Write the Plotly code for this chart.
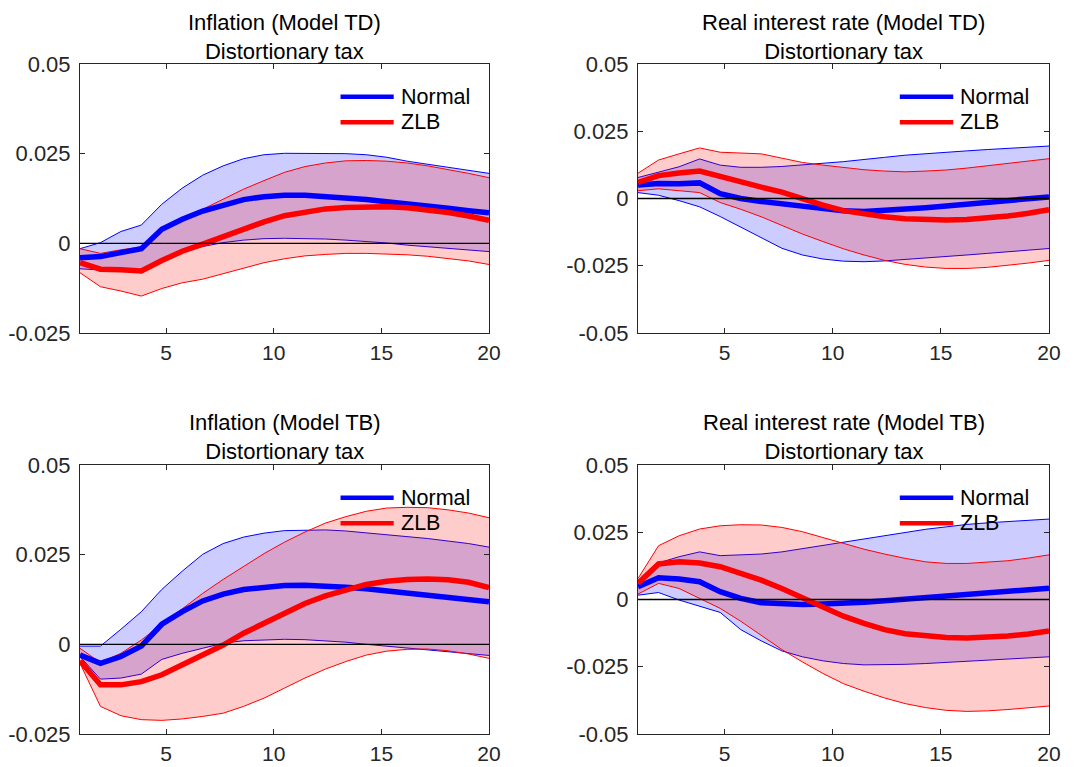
import plotly.graph_objects as go

# ---------------- data ----------------
periods = [1, 1.95, 2.9, 3.85, 4.8, 5.75, 6.7, 7.65, 8.6, 9.55, 10.5,
           11.45, 12.4, 13.35, 14.3, 15.25, 16.2, 17.15, 18.1, 19.05, 20]

x_tickvals = [5, 10, 15, 20]
x_ticktext = ["5", "10", "15", "20"]
y_tickvals_inf = [-0.025, 0, 0.025, 0.05]
y_ticktext_inf = ["-0.025", "0", "0.025", "0.05"]
y_tickvals_rate = [-0.05, -0.025, 0, 0.025, 0.05]
y_ticktext_rate = ["-0.05", "-0.025", "0", "0.025", "0.05"]

series_names = ["Normal", "ZLB"]
titles = ["Inflation (Model TD)", "Real interest rate (Model TD)",
          "Inflation (Model TB)", "Real interest rate (Model TB)"]
subtitle = "Distortionary tax"

# Panel 1: Inflation (Model TD)
inf_td_normal = [-0.0040, -0.0037, -0.0026, -0.0015, 0.0039, 0.0067, 0.0090, 0.0107, 0.0122, 0.0130, 0.0134,
                 0.0134, 0.0131, 0.0126, 0.0122, 0.0116, 0.0111, 0.0104, 0.0098, 0.0091, 0.0085]
inf_td_normal_hi = [-0.0015, 0.0002, 0.0033, 0.0051, 0.0109, 0.0154, 0.0190, 0.0216, 0.0236, 0.0247, 0.0251,
                    0.0251, 0.0251, 0.0250, 0.0247, 0.0240, 0.0229, 0.0220, 0.0211, 0.0203, 0.0195]
inf_td_normal_lo = [-0.0071, -0.0074, -0.0075, -0.0080, -0.0045, -0.0023, -0.0009, 0.0002, 0.0009, 0.0013, 0.0014,
                    0.0014, 0.0012, 0.0009, 0.0006, 0.0001, -0.0005, -0.0009, -0.0014, -0.0019, -0.0023]
inf_td_zlb = [-0.0054, -0.0072, -0.0074, -0.0077, -0.0048, -0.0022, -0.0002, 0.0019, 0.0040, 0.0060, 0.0077,
              0.0088, 0.0096, 0.0100, 0.0102, 0.0102, 0.0099, 0.0094, 0.0086, 0.0076, 0.0064]
inf_td_zlb_hi = [-0.0015, -0.0028, -0.0018, -0.0010, 0.0035, 0.0068, 0.0095, 0.0123, 0.0151, 0.0175, 0.0198,
                 0.0214, 0.0224, 0.0230, 0.0231, 0.0229, 0.0224, 0.0216, 0.0206, 0.0195, 0.0183]
inf_td_zlb_lo = [-0.0082, -0.0121, -0.0133, -0.0147, -0.0126, -0.0110, -0.0100, -0.0084, -0.0068, -0.0054, -0.0043,
                 -0.0035, -0.0031, -0.0028, -0.0028, -0.0029, -0.0032, -0.0036, -0.0042, -0.0049, -0.0059]

# Panel 2: Real interest rate (Model TD)
rate_td_normal = [0.0050, 0.0056, 0.0055, 0.0058, 0.0018, 0.0000, -0.0011, -0.0021, -0.0030, -0.0040, -0.0046,
                  -0.0048, -0.0045, -0.0040, -0.0034, -0.0028, -0.0021, -0.0015, -0.0008, -0.0001, 0.0006]
rate_td_normal_hi = [0.0078, 0.0099, 0.0118, 0.0147, 0.0124, 0.0116, 0.0116, 0.0119, 0.0124, 0.0131, 0.0137,
                     0.0144, 0.0153, 0.0161, 0.0167, 0.0172, 0.0177, 0.0182, 0.0186, 0.0190, 0.0195]
rate_td_normal_lo = [0.0022, 0.0012, -0.0008, -0.0031, -0.0067, -0.0107, -0.0148, -0.0185, -0.0210, -0.0225, -0.0233,
                     -0.0235, -0.0232, -0.0227, -0.0222, -0.0216, -0.0210, -0.0204, -0.0197, -0.0192, -0.0186]
rate_td_zlb = [0.0060, 0.0085, 0.0095, 0.0102, 0.0082, 0.0060, 0.0042, 0.0024, -0.0002, -0.0025, -0.0045,
               -0.0058, -0.0068, -0.0075, -0.0079, -0.0080, -0.0078, -0.0073, -0.0065, -0.0055, -0.0042]
rate_td_zlb_hi = [0.0094, 0.0143, 0.0166, 0.0188, 0.0172, 0.0168, 0.0166, 0.0150, 0.0134, 0.0124, 0.0116,
                  0.0107, 0.0102, 0.0099, 0.0102, 0.0106, 0.0113, 0.0122, 0.0131, 0.0139, 0.0148]
rate_td_zlb_lo = [0.0029, 0.0036, 0.0029, 0.0022, -0.0015, -0.0040, -0.0068, -0.0100, -0.0132, -0.0160, -0.0187,
                  -0.0210, -0.0230, -0.0245, -0.0255, -0.0260, -0.0260, -0.0256, -0.0249, -0.0240, -0.0230]

# Panel 3: Inflation (Model TB)
inf_tb_normal = [-0.0030, -0.0053, -0.0034, -0.0005, 0.0056, 0.0091, 0.0121, 0.0140, 0.0153, 0.0160, 0.0164,
                 0.0165, 0.0163, 0.0159, 0.0155, 0.0149, 0.0144, 0.0138, 0.0132, 0.0126, 0.0119]
inf_tb_normal_hi = [-0.0005, -0.0005, 0.0042, 0.0091, 0.0153, 0.0204, 0.0251, 0.0281, 0.0299, 0.0310, 0.0317,
                    0.0319, 0.0319, 0.0316, 0.0311, 0.0306, 0.0301, 0.0295, 0.0288, 0.0281, 0.0271]
inf_tb_normal_lo = [-0.0034, -0.0097, -0.0094, -0.0083, -0.0042, -0.0025, -0.0011, 0.0003, 0.0010, 0.0013, 0.0014,
                    0.0013, 0.0010, 0.0006, 0.0000, -0.0005, -0.0009, -0.0014, -0.0019, -0.0025, -0.0031]
inf_tb_zlb = [-0.0046, -0.0113, -0.0113, -0.0104, -0.0085, -0.0057, -0.0030, -0.0002, 0.0031, 0.0060, 0.0088,
              0.0114, 0.0135, 0.0153, 0.0167, 0.0176, 0.0181, 0.0182, 0.0180, 0.0173, 0.0158]
inf_tb_zlb_hi = [-0.0011, -0.0051, -0.0025, 0.0012, 0.0056, 0.0100, 0.0142, 0.0181, 0.0218, 0.0253, 0.0285,
                 0.0313, 0.0338, 0.0356, 0.0371, 0.0380, 0.0382, 0.0381, 0.0375, 0.0366, 0.0353]
inf_tb_zlb_lo = [-0.0053, -0.0173, -0.0199, -0.0210, -0.0212, -0.0208, -0.0201, -0.0192, -0.0173, -0.0150, -0.0122,
                 -0.0094, -0.0069, -0.0048, -0.0030, -0.0019, -0.0014, -0.0013, -0.0018, -0.0027, -0.0039]

# Panel 4: Real interest rate (Model TB)
rate_tb_normal = [0.0047, 0.0081, 0.0076, 0.0066, 0.0029, 0.0004, -0.0012, -0.0017, -0.0019, -0.0017, -0.0015,
                  -0.0010, -0.0005, 0.0001, 0.0007, 0.0015, 0.0021, 0.0027, 0.0033, 0.0038, 0.0042]
rate_tb_normal_hi = [0.0066, 0.0136, 0.0159, 0.0177, 0.0163, 0.0165, 0.0169, 0.0177, 0.0189, 0.0201, 0.0213,
                     0.0226, 0.0238, 0.0251, 0.0261, 0.0270, 0.0279, 0.0285, 0.0290, 0.0295, 0.0299]
rate_tb_normal_lo = [0.0016, 0.0026, -0.0002, -0.0025, -0.0048, -0.0112, -0.0154, -0.0191, -0.0213, -0.0228, -0.0238,
                     -0.0243, -0.0243, -0.0241, -0.0238, -0.0234, -0.0230, -0.0226, -0.0221, -0.0217, -0.0213]
rate_tb_zlb = [0.0060, 0.0132, 0.0140, 0.0136, 0.0122, 0.0097, 0.0072, 0.0041, 0.0007, -0.0027, -0.0062,
               -0.0089, -0.0112, -0.0127, -0.0136, -0.0141, -0.0143, -0.0141, -0.0136, -0.0128, -0.0117]
rate_tb_zlb_hi = [0.0078, 0.0200, 0.0237, 0.0262, 0.0274, 0.0278, 0.0277, 0.0268, 0.0252, 0.0231, 0.0208,
                  0.0187, 0.0169, 0.0153, 0.0140, 0.0134, 0.0134, 0.0138, 0.0144, 0.0154, 0.0166]
rate_tb_zlb_lo = [0.0020, 0.0060, 0.0041, 0.0004, -0.0033, -0.0081, -0.0133, -0.0186, -0.0232, -0.0275, -0.0313,
                  -0.0341, -0.0366, -0.0387, -0.0402, -0.0412, -0.0416, -0.0414, -0.0409, -0.0403, -0.0396]

panels = [
    (inf_td_normal, inf_td_normal_hi, inf_td_normal_lo, inf_td_zlb, inf_td_zlb_hi, inf_td_zlb_lo),
    (rate_td_normal, rate_td_normal_hi, rate_td_normal_lo, rate_td_zlb, rate_td_zlb_hi, rate_td_zlb_lo),
    (inf_tb_normal, inf_tb_normal_hi, inf_tb_normal_lo, inf_tb_zlb, inf_tb_zlb_hi, inf_tb_zlb_lo),
    (rate_tb_normal, rate_tb_normal_hi, rate_tb_normal_lo, rate_tb_zlb, rate_tb_zlb_hi, rate_tb_zlb_lo),
]

# ---------------- style / layout ----------------
W, H = 1075, 767
FONT = "Liberation Sans, Arial, Helvetica, sans-serif"
AX_COLOR = "#262626"
BLUE, RED = "#0000ff", "#ff0000"
BLUE_FILL, RED_FILL = "rgba(0,0,255,0.2)", "rgba(255,0,0,0.2)"

# pixel boxes (left, right, top, bottom)
boxes = [(80, 489, 64, 333), (638, 1049, 64, 333),
         (80, 489, 465, 734), (638, 1049, 465, 734)]
title_centers = [37, 37, 437, 437]
y_ranges = [[-0.025, 0.05], [-0.05, 0.05], [-0.025, 0.05], [-0.05, 0.05]]
y_ticks = [(y_tickvals_inf, y_ticktext_inf), (y_tickvals_rate, y_ticktext_rate),
           (y_tickvals_inf, y_ticktext_inf), (y_tickvals_rate, y_ticktext_rate)]

fig = go.Figure()
layout = dict(
    width=W, height=H, margin=dict(l=0, r=0, t=0, b=0, autoexpand=False),
    paper_bgcolor="white", plot_bgcolor="white",
    showlegend=False, font=dict(family=FONT, color=AX_COLOR),
)
annotations, shapes = [], []

for i, (nm, nhi, nlo, zm, zhi, zlo) in enumerate(panels):
    n = i + 1
    xa = "x" if n == 1 else f"x{n}"
    ya = "y" if n == 1 else f"y{n}"
    l, r, t, b = boxes[i]

    # bands: Normal then ZLB
    fig.add_trace(go.Scatter(x=periods, y=nlo, mode="lines", line=dict(color=BLUE, width=1),
                             xaxis=xa, yaxis=ya, hoverinfo="skip"))
    fig.add_trace(go.Scatter(x=periods, y=nhi, mode="lines", line=dict(color=BLUE, width=1),
                             fill="tonexty", fillcolor=BLUE_FILL, xaxis=xa, yaxis=ya, hoverinfo="skip"))
    fig.add_trace(go.Scatter(x=periods, y=zlo, mode="lines", line=dict(color=RED, width=1),
                             xaxis=xa, yaxis=ya, hoverinfo="skip"))
    fig.add_trace(go.Scatter(x=periods, y=zhi, mode="lines", line=dict(color=RED, width=1),
                             fill="tonexty", fillcolor=RED_FILL, xaxis=xa, yaxis=ya, hoverinfo="skip"))
    # means
    fig.add_trace(go.Scatter(x=periods, y=nm, mode="lines", name=series_names[0],
                             line=dict(color=BLUE, width=5.5), xaxis=xa, yaxis=ya))
    fig.add_trace(go.Scatter(x=periods, y=zm, mode="lines", name=series_names[1],
                             line=dict(color=RED, width=5.5), xaxis=xa, yaxis=ya))

    tv, tt = y_ticks[i]
    layout["xaxis" if n == 1 else f"xaxis{n}"] = dict(
        domain=[l / W, r / W], anchor=ya, range=[1, 20], automargin=False,
        tickmode="array", tickvals=x_tickvals, ticktext=x_ticktext,
        ticks="inside", ticklen=5, tickcolor=AX_COLOR, tickwidth=1,
        showline=True, linecolor=AX_COLOR, linewidth=1, mirror="ticks",
        showgrid=False, zeroline=False,
        tickfont=dict(family=FONT, size=21, color=AX_COLOR), ticklabelstandoff=1,
    )
    layout["yaxis" if n == 1 else f"yaxis{n}"] = dict(
        domain=[1 - b / H, 1 - t / H], anchor=xa, range=y_ranges[i], automargin=False,
        tickmode="array", tickvals=tv, ticktext=tt,
        ticks="inside", ticklen=5, tickcolor=AX_COLOR, tickwidth=1,
        showline=True, linecolor=AX_COLOR, linewidth=1, mirror="ticks",
        showgrid=False, zeroline=False,
        tickfont=dict(family=FONT, size=22, color=AX_COLOR), ticklabelstandoff=4,
    )

    # zero reference line
    shapes.append(dict(type="line", xref=f"{xa} domain", yref=ya, x0=0, x1=1, y0=0, y1=0,
                       line=dict(color="black", width=1.3), layer="above"))

    # title
    annotations.append(dict(
        text=f"{titles[i]}<br>{subtitle}", xref="paper", yref="paper",
        x=(l + r) / 2 / W, y=1 - title_centers[i] / H, xanchor="center", yanchor="middle",
        showarrow=False, font=dict(family=FONT, size=22, color="black"),
    ))

    # legend (no box)
    for j, (name, col) in enumerate(zip(series_names, [BLUE, RED])):
        ly = 0.878 if j == 0 else 0.783
        shapes.append(dict(type="line", xref=f"{xa} domain", yref=f"{ya} domain",
                           x0=0.637, x1=0.767, y0=ly, y1=ly,
                           line=dict(color=col, width=4.5), layer="above"))
        annotations.append(dict(text=name, xref=f"{xa} domain", yref=f"{ya} domain",
                                x=0.779, y=ly, xanchor="left", yanchor="middle", showarrow=False,
                                font=dict(family=FONT, size=21.5, color="black")))

layout["annotations"] = annotations
layout["shapes"] = shapes
fig.update_layout(**layout)
fig.write_html("out.html")
